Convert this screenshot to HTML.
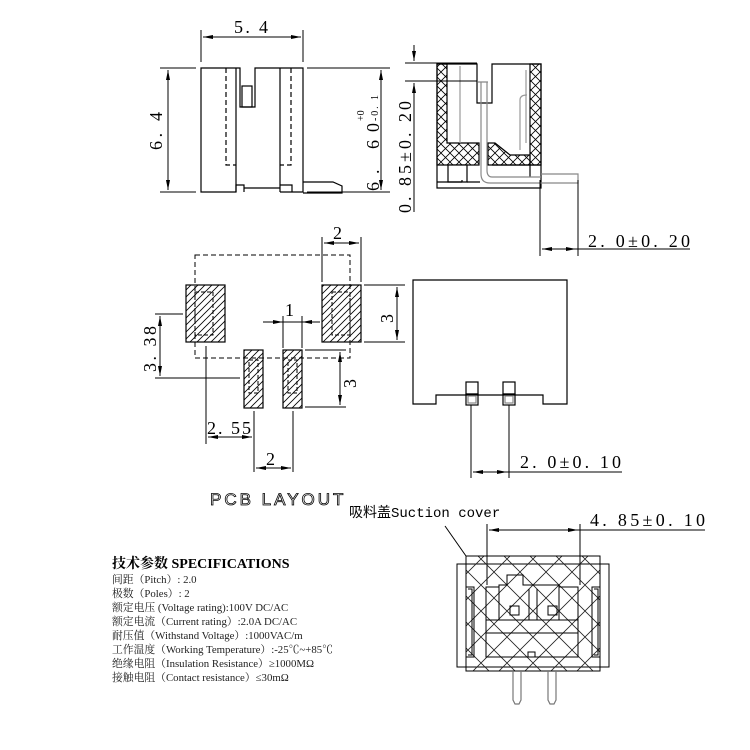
<!DOCTYPE html>
<html><head><meta charset="utf-8"><style>
html,body{margin:0;padding:0;background:#fff;}
svg{display:block}
.t{font-family:"Liberation Serif","Noto Serif CJK SC",serif;fill:#000}
.s{font-family:"Liberation Serif","Noto Serif CJK SC",serif;font-size:10.8px;fill:#222}
</style></head><body>
<svg width="750" height="750" viewBox="0 0 750 750" xmlns="http://www.w3.org/2000/svg">
<defs>
<pattern id="x" width="9" height="9" patternUnits="userSpaceOnUse"><path d="M0 0L9 9M9 0L0 9" stroke="#000" stroke-width="0.8"/></pattern>
<pattern id="xb" width="26" height="26" patternUnits="userSpaceOnUse"><path d="M0 0L26 26M26 0L0 26" stroke="#222" stroke-width="0.8"/></pattern>
<pattern id="d" width="7" height="7" patternUnits="userSpaceOnUse"><path d="M0 7L7 0M-2 2L2 -2M5 9L9 5" stroke="#000" stroke-width="0.8"/></pattern>
<marker id="a" markerWidth="10" markerHeight="6" refX="10" refY="3" orient="auto-start-reverse" markerUnits="userSpaceOnUse"><path d="M0 1L10 3L0 5Z" fill="#000"/></marker>
</defs>
<g fill="none" stroke="#000" stroke-width="1.2">
<path d="M201 68H236V192H201Z M236 68V192 M236 68H240V107H255V68H280V192 M280 68H303V192H280"/>
<path d="M226 68V165H236 M291 68V165H280" stroke-dasharray="5,3"/>
<rect x="242" y="86" width="10" height="21"/>
<path d="M236 192V185H244V192 M280 185H292V192 M244 188H280 M303 182H333L342 186V193H303" />
<path d="M201 30V62 M303 30V62" stroke-width="1"/>
<path d="M203 37H301" marker-start="url(#a)" marker-end="url(#a)" stroke-width="1"/>
<path d="M160 68H196 M160 192H196" stroke-width="1"/>
<path d="M168 70V190" marker-start="url(#a)" marker-end="url(#a)" stroke-width="1"/>
<path d="M307 68H390 M307 192H390" stroke-width="1"/>
<path d="M381 70V190" marker-start="url(#a)" marker-end="url(#a)" stroke-width="1"/>
<path d="M437 64H447V143H479V165H437Z" fill="url(#x)"/>
<path d="M530 64H541V165H530Z" fill="url(#x)"/>
<path d="M488 143H495L510 155H530V165H488Z" fill="url(#x)"/>
<path d="M437 64H477V103H492V64H541V188H437Z"/>
<path d="M448 165H467V182H448Z" fill="#fff"/>
<path d="M437 182H462 M462 182V180 M467 182H480 M492 165H541 M530 165V177"/>
<path d="M481 82V174Q481 183 490 183H578V174H541 M487 82V170Q487 177 492 177H541 M478 82H488" stroke="#888"/>
<path d="M460 66V143 M526 70V143 M527 95Q520 95 520 100V150" stroke="#999"/>
<path d="M405 63H477 M405 81H477" stroke-width="1"/>
<path d="M414 45V61" marker-end="url(#a)" stroke-width="1"/>
<path d="M414 83V212" marker-start="url(#a)" stroke-width="1"/>
<path d="M540 180V256 M578 180V256" stroke-width="1"/>
<path d="M542 249H576" marker-start="url(#a)" marker-end="url(#a)" stroke-width="1"/>
<path d="M576 249H690" stroke-width="1"/>
<rect x="195" y="255" width="155" height="103" stroke-dasharray="5,3" stroke-width="1"/>
<rect x="186" y="285" width="39" height="57" fill="url(#d)"/>
<rect x="195" y="292" width="18" height="43" stroke-dasharray="4,2" stroke-width="1"/>
<rect x="322" y="285" width="39" height="57" fill="url(#d)"/>
<rect x="332" y="292" width="18" height="43" stroke-dasharray="4,2" stroke-width="1"/>
<rect x="244" y="350" width="19" height="58" fill="url(#d)"/>
<rect x="249" y="360" width="9" height="33" stroke-dasharray="4,2" stroke-width="1"/>
<rect x="283" y="350" width="19" height="58" fill="url(#d)"/>
<rect x="288" y="360" width="9" height="33" stroke-dasharray="4,2" stroke-width="1"/>
<path d="M322 282V237 M361 282V237" stroke-width="1"/>
<path d="M324 243H359" marker-start="url(#a)" marker-end="url(#a)" stroke-width="1"/>
<path d="M364 285H405 M364 342H405" stroke-width="1"/>
<path d="M397 287V340" marker-start="url(#a)" marker-end="url(#a)" stroke-width="1"/>
<path d="M283 316V348 M302 316V348" stroke-width="1"/>
<path d="M263 322H283" marker-end="url(#a)" stroke-width="1"/>
<path d="M320 322H302" marker-end="url(#a)" stroke-width="1"/>
<path d="M283 322H302" stroke-width="1"/>
<path d="M155 314H183 M155 378H240" stroke-width="1"/>
<path d="M160 316V376" marker-start="url(#a)" marker-end="url(#a)" stroke-width="1"/>
<path d="M305 350H346 M305 407H346" stroke-width="1"/>
<path d="M340 352V405" marker-start="url(#a)" marker-end="url(#a)" stroke-width="1"/>
<path d="M206 346V444 M254 411V472 M293 411V472" stroke-width="1"/>
<path d="M208 437H252" marker-start="url(#a)" marker-end="url(#a)" stroke-width="1"/>
<path d="M256 468H291" marker-start="url(#a)" marker-end="url(#a)" stroke-width="1"/>
<path d="M413 280H567V404H543V395H436V404H413Z"/>
<rect x="466" y="382" width="12" height="12"/><rect x="466" y="394" width="12" height="11"/><rect x="468" y="396" width="8" height="7" stroke="#888"/>
<rect x="503" y="382" width="12" height="12"/><rect x="503" y="394" width="12" height="11"/><rect x="505" y="396" width="8" height="7" stroke="#888"/>
<path d="M471 405V478 M509 405V478" stroke-width="1"/>
<path d="M473 472H507" marker-start="url(#a)" marker-end="url(#a)" stroke-width="1"/>
<path d="M507 472H622" stroke-width="1"/>
<path d="M487 524V585 M580 524V585" stroke-width="1"/>
<path d="M489 530H578" marker-start="url(#a)" marker-end="url(#a)" stroke-width="1"/>
<path d="M578 530H705" stroke-width="1"/>
<path d="M445 526L466 556" stroke-width="1"/>
<rect x="457" y="564" width="152" height="103" stroke-width="1"/>
<rect x="466" y="556" width="134" height="115" fill="url(#xb)" stroke-width="1"/>
<path d="M486 587H499V585H507V575H523V585H559V587H578V657H486Z" stroke-width="1"/>
<path d="M499 587V620 M559 587V620 M486 620H578 M486 633H578 M529 589V620 M537 589V620 M528 652H535V657H528Z" stroke-width="1"/>
<rect x="510" y="606" width="9" height="9" stroke-width="1"/><rect x="548" y="606" width="9" height="9" stroke-width="1"/>
<path d="M466 587H474V657H466 M600 587H592V657H600 M468 589H472V655H468 M594 589H598V655H594" stroke-width="1"/>
<path d="M513 671V700L515 704H519L521 700V671 M548 671V700L550 704H554L556 700V671" stroke="#777"/>
</g>
<g class="t" font-size="18">
<text x="234" y="33" textLength="34" lengthAdjust="spacing">5. 4</text>
<text transform="translate(162,150) rotate(-90)" textLength="38" lengthAdjust="spacing">6. 4</text>
<text transform="translate(379,191) rotate(-90)" textLength="68" lengthAdjust="spacing">6. 60</text>
<text transform="translate(364,121) rotate(-90)" font-size="10">+0</text>
<text transform="translate(378,121) rotate(-90)" font-size="10" textLength="26" lengthAdjust="spacing">-0. 1</text>
<text transform="translate(411,213) rotate(-90)" textLength="112" lengthAdjust="spacing">0. 85±0. 20</text>
<text x="588" y="247" textLength="102" lengthAdjust="spacing">2. 0±0. 20</text>
<text x="333" y="239">2</text>
<text transform="translate(393,323) rotate(-90)">3</text>
<text x="285" y="316">1</text>
<text transform="translate(156,372) rotate(-90)" textLength="46" lengthAdjust="spacing">3. 38</text>
<text transform="translate(356,388) rotate(-90)">3</text>
<text x="207" y="434" textLength="44" lengthAdjust="spacing">2. 55</text>
<text x="266" y="465">2</text>
<text x="520" y="468" textLength="101" lengthAdjust="spacing">2. 0±0. 10</text>
<text x="590" y="526" textLength="115" lengthAdjust="spacing">4. 85±0. 10</text>
<text x="210" y="505" font-family="Liberation Sans,sans-serif" font-size="17" letter-spacing="3" fill="#fff" stroke="#000" stroke-width="0.8">PCB LAYOUT</text>
<text x="349" y="517" font-size="14" font-family="Liberation Mono,Noto Sans CJK SC,monospace">吸料盖Suction cover</text>
</g>
<text x="112" y="568" class="t" font-size="14" font-weight="bold">技术参数 SPECIFICATIONS</text>
<text x="112" y="583" class="s">间距（Pitch）: 2.0</text>
<text x="112" y="597" class="s">极数（Poles）: 2</text>
<text x="112" y="611" class="s">额定电压 (Voltage rating):100V DC/AC</text>
<text x="112" y="625" class="s">额定电流（Current rating）:2.0A DC/AC</text>
<text x="112" y="639" class="s">耐压值（Withstand Voltage）:1000VAC/m</text>
<text x="112" y="653" class="s">工作温度（Working Temperature）:-25℃~+85℃</text>
<text x="112" y="667" class="s">绝缘电阻（Insulation Resistance）≥1000MΩ</text>
<text x="112" y="681" class="s">接触电阻（Contact resistance）≤30mΩ</text>
</svg>
</body></html>
